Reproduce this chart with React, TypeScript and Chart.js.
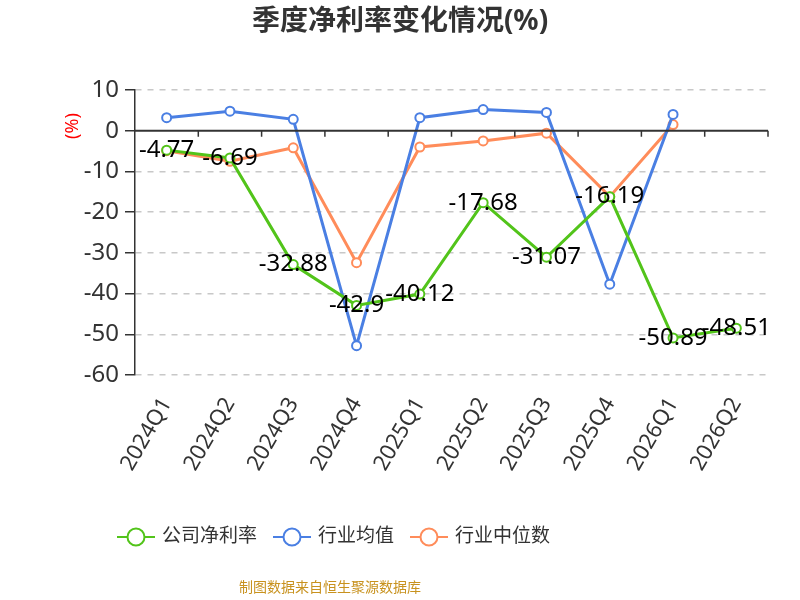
import React, { useEffect, useRef } from "react";
import { Chart, registerables } from "chart.js";

Chart.register(...registerables);

const quarters = [
  "2024Q1", "2024Q2", "2024Q3", "2024Q4", "2025Q1",
  "2025Q2", "2025Q3", "2025Q4", "2026Q1", "2026Q2",
];
const companyRate = [-4.77, -6.69, -32.88, -42.9, -40.12, -17.68, -31.07, -16.19, -50.89, -48.51];
const industryMean = [3.2, 4.8, 2.8, -52.8, 3.2, 5.2, 4.5, -37.7, 4.0, null];
const industryMedian = [-4.9, -7.5, -4.2, -32.4, -4.0, -2.5, -0.6, -16.2, 1.5, null];
const seriesNames = ["公司净利率", "行业均值", "行业中位数"];
const seriesColors = ["#52c41a", "#4a7fe3", "#ff8c5a"];
const titleText = "季度净利率变化情况(%)";
const unitLabel = "(%)";
const sourceNote = "制图数据来自恒生聚源数据库";

const FONT = '"Noto Sans", "Noto Sans CJK SC", sans-serif';

// 标题、零线、x 轴刻度、数值标签、单位、图例和底部说明
const extras = {
  id: "extras",
  afterDraw(chart: any) {
    const { ctx, chartArea, scales } = chart;
    const x = scales.x;
    const y0 = scales.y.getPixelForValue(0);
    ctx.save();

    ctx.font = `bold 28px ${FONT}`;
    ctx.fillStyle = "#333";
    ctx.textAlign = "center";
    ctx.textBaseline = "middle";
    ctx.fillText(titleText, 400, 22);

    ctx.strokeStyle = "#333";
    ctx.lineWidth = 2;
    ctx.beginPath();
    ctx.moveTo(chartArea.left, y0);
    ctx.lineTo(chartArea.right, y0);
    ctx.stroke();
    ctx.lineWidth = 1.5;
    ctx.beginPath();
    for (let i = 1; i <= quarters.length; i++) {
      const px =
        i === quarters.length
          ? chartArea.right
          : (x.getPixelForTick(i - 1) + x.getPixelForTick(i)) / 2;
      ctx.moveTo(px, y0);
      ctx.lineTo(px, y0 + 6);
    }
    ctx.stroke();

    // 公司净利率数值
    const meta = chart.getDatasetMeta(0);
    ctx.fillStyle = "#000";
    ctx.font = `24px ${FONT}`;
    meta.data.forEach((pt: any, i: number) => {
      ctx.fillText(String(companyRate[i]), pt.x, pt.y);
    });

    // 单位
    ctx.save();
    ctx.translate(73, 126);
    ctx.rotate(-Math.PI / 2);
    ctx.font = `18px ${FONT}`;
    ctx.fillStyle = "#ff0000";
    ctx.fillText(unitLabel, 0, 0);
    ctx.restore();

    // 图例
    ctx.font = `19px ${FONT}`;
    ctx.textAlign = "left";
    let cx = 117;
    const ly = 537;
    seriesNames.forEach((name, i) => {
      ctx.strokeStyle = seriesColors[i];
      ctx.lineWidth = 2;
      ctx.beginPath();
      ctx.moveTo(cx, ly);
      ctx.lineTo(cx + 38, ly);
      ctx.stroke();
      ctx.beginPath();
      ctx.arc(cx + 19, ly, 8.5, 0, Math.PI * 2);
      ctx.fillStyle = "#fff";
      ctx.fill();
      ctx.stroke();
      ctx.fillStyle = "#333";
      ctx.fillText(name, cx + 45, ly);
      cx += 45 + ctx.measureText(name).width + 16;
    });

    // 数据来源
    ctx.font = `14px ${FONT}`;
    ctx.textAlign = "center";
    ctx.fillStyle = "#c8921e";
    ctx.fillText(sourceNote, 330, 588);
    ctx.restore();
  },
};

const App = () => {
  const canvasRef = useRef<HTMLCanvasElement>(null);
  const chartRef = useRef<Chart | null>(null);

  useEffect(() => {
    if (!canvasRef.current) return;
    chartRef.current?.destroy();

    const series = [companyRate, industryMean, industryMedian];

    chartRef.current = new Chart(canvasRef.current, {
      type: "line",
      data: {
        labels: quarters,
        datasets: series.map((d, i) => ({
          label: seriesNames[i],
          data: d,
          borderColor: seriesColors[i],
          backgroundColor: "#fff",
          borderWidth: 3,
          pointRadius: 4.5,
          pointBorderWidth: 2,
          pointBackgroundColor: "#fff",
          pointBorderColor: seriesColors[i],
          spanGaps: false,
        })),
      },
      options: {
        responsive: true,
        maintainAspectRatio: false,
        animation: false,
        layout: {
          padding: { left: 0, right: 32, top: 90, bottom: 0 },
        },
        plugins: {
          title: { display: false },
          legend: { display: false },
          tooltip: { enabled: false },
        },
        scales: {
          x: {
            offset: true,
            grid: { display: false, drawTicks: false },
            border: { display: false },
            afterFit: (s: any) => {
              s.height = 225;
            },
            ticks: {
              color: "#333",
              font: { family: FONT, size: 22 },
              minRotation: 60,
              maxRotation: 60,
              padding: 18,
              autoSkip: false,
            },
          },
          y: {
            min: -60,
            max: 10,
            afterFit: (s: any) => {
              s.width = 135;
            },
            border: { display: true, color: "#333", width: 1.5, dash: [6, 6] },
            grid: {
              color: (c: any) => (c.tick && c.tick.value === 0 ? "rgba(0,0,0,0)" : "#c8c8c8"),
              lineWidth: 1.5,
              tickColor: "#333",
              tickLength: 10,
              tickBorderDash: [],
            },
            ticks: {
              stepSize: 10,
              color: "#333",
              font: { family: FONT, size: 24 },
              padding: 6,
            },
          },
        },
      } as any,
      plugins: [extras],
    });

    return () => {
      chartRef.current?.destroy();
    };
  }, []);

  return (
    <div style={{ position: "fixed", left: 0, top: 0, width: 800, height: 600, background: "#fff" }}>
      <canvas ref={canvasRef} />
    </div>
  );
};

export default App;
